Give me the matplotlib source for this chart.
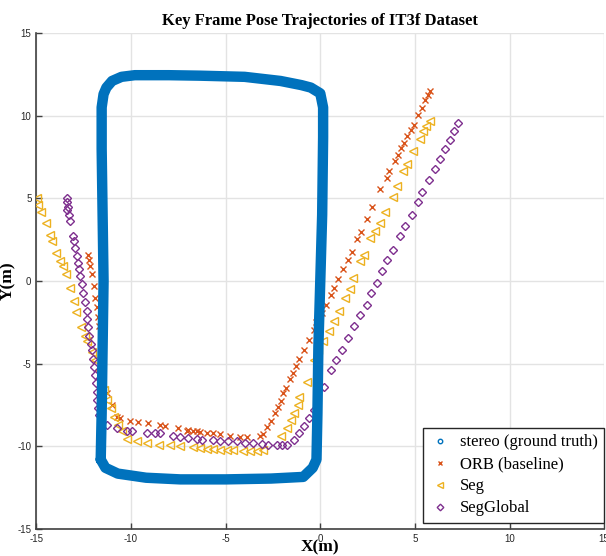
import numpy as np
import matplotlib
matplotlib.use("Agg")
import matplotlib.pyplot as plt

plt.rcParams["axes.unicode_minus"] = False
plt.rcParams["font.family"] = ["Liberation Sans", "DejaVu Sans"]

# ground truth (stereo) loop
gt_x = [-11.6, -11.55, -11.5, -11.45, -11.5, -11.55, -11.55, -11.45, -11.3, -11.0, -10.5, -9.8,
        -8.0, -6.35, -4.0, -2.1, -1.0, -0.5, 0.0, 0.15, 0.15, 0.1, 0.0, -0.1, -0.15, -0.2,
        -0.4, -0.9, -2.6, -5.0, -7.4, -9.2, -10.7, -11.35, -11.6]
gt_y = [-10.8, -8.0, -4.0, 0.0, 4.0, 8.0, 10.5, 11.3, 11.7, 12.1, 12.35, 12.45,
        12.45, 12.42, 12.35, 12.1, 11.85, 11.7, 11.35, 10.5, 8.7, 4.0, 0.0, -4.0, -8.0, -10.8,
        -11.3, -11.85, -11.95, -12.0, -12.0, -11.9, -11.65, -11.3, -10.8]

orb_x = [-12.25, -12.2, -12.15, -12.05, -11.95, -11.9, -11.8, -11.75, -11.7, -11.6,
         -11.27, -11.0, -10.74, -10.58, -10.05, -9.63, -9.1, -8.47, -8.2, -7.51, -6.98, -6.5,
         -7.04, -6.72, -6.35, -5.98, -5.66, -5.29, -4.76, -4.23, -3.86, -3.17,
         -3.0, -2.8, -2.6, -2.4, -2.25, -2.1, -1.95, -1.8, -1.6, -1.45, -1.3, -1.1, -0.85,
         -0.6, -0.35, -0.2, 0.1, 0.3, 0.55, 0.75, 0.95, 1.2, 1.45, 1.65, 1.95, 2.15, 2.45,
         2.75, 3.15, 3.5, 3.65, 3.95, 4.1, 4.25, 4.4, 4.6, 4.8, 4.95, 5.15, 5.35, 5.55, 5.7, 5.8]
orb_y = [1.55, 1.3, 0.9, 0.4, -0.3, -1.0, -1.6, -2.2, -2.7, -3.5,
         -6.8, -7.5, -8.2, -8.3, -8.45, -8.55, -8.6, -8.7, -8.8, -8.9, -9.0, -9.1,
         -9.05, -9.1, -9.15, -9.2, -9.2, -9.25, -9.35, -9.45, -9.45, -9.4,
         -9.25, -8.85, -8.45, -8.0, -7.65, -7.25, -6.8, -6.45, -5.95, -5.55, -5.15, -4.7, -4.15,
         -3.55, -2.95, -2.45, -1.95, -1.45, -0.85, -0.4, 0.15, 0.75, 1.25, 1.75, 2.55, 2.95, 3.75,
         4.45, 5.55, 6.25, 6.65, 7.25, 7.65, 8.05, 8.35, 8.75, 9.15, 9.45, 10.05, 10.45, 10.95, 11.25, 11.5]

seg_x = [-14.95, -14.9, -14.75, -14.5, -14.3, -14.15, -13.95, -13.75, -13.6, -13.45, -13.2,
         -13.0, -12.9, -12.65, -12.45, -12.3, -12.05, -11.9, -11.7, -11.6, -11.4, -11.25,
         -11.05, -10.9, -10.7, -10.5, -10.2, -9.7, -9.15, -8.5, -7.95, -7.4,
         -6.72, -6.35, -5.98, -5.66, -5.29, -4.92, -4.6, -4.07, -3.7, -3.33, -3.02,
         -2.1, -1.75, -1.55, -1.4, -1.2, -1.1, -0.7, -0.35, -0.1, 0.15, 0.45, 0.7, 1.0,
         1.3, 1.55, 1.75, 2.1, 2.3, 2.65, 2.9, 3.15, 3.4, 3.85, 4.05, 4.35, 4.6, 4.9,
         5.25, 5.45, 5.6, 5.8]
seg_y = [5.0, 4.6, 4.2, 3.5, 2.8, 2.4, 1.7, 1.2, 0.9, 0.4, -0.4,
         -1.2, -1.9, -2.8, -3.3, -3.6, -4.3, -4.8, -5.4, -6.0, -6.6, -7.2,
         -7.7, -8.2, -8.7, -9.1, -9.55, -9.7, -9.8, -9.9, -9.95, -10.0,
         -10.05, -10.1, -10.15, -10.15, -10.2, -10.2, -10.25, -10.3, -10.3, -10.3, -10.25,
         -9.4, -8.9, -8.4, -8.0, -7.5, -7.0, -6.1, -4.8, -4.2, -3.6, -3.0, -2.4, -1.8,
         -1.0, -0.5, 0.2, 1.2, 1.6, 2.6, 3.0, 3.5, 4.2, 5.1, 5.75, 6.65, 7.1, 7.85,
         8.6, 9.05, 9.35, 9.65]

sg_x = [-13.4, -13.4, -13.35, -13.4, -13.3, -13.2, -13.05, -13.0, -12.95, -12.85, -12.8,
        -12.75, -12.7, -12.6, -12.55, -12.45, -12.35, -12.35, -12.25, -12.2, -12.1, -12.05,
        -12.0, -11.95, -11.9, -11.85, -11.8, -11.8, -11.75, -11.7,
        -11.27, -10.74, -10.21, -9.95, -9.15, -8.73, -8.47, -7.78, -7.41, -6.98, -6.5,
        -6.24, -5.66, -5.29, -4.87, -4.39, -3.97, -3.54, -3.07, -2.75, -2.28, -2.01, -1.75,
        -1.4, -1.1, -0.85, -0.6, -0.35, -0.15, 0.2, 0.55, 0.85, 1.15, 1.45, 1.8, 2.1, 2.45,
        2.7, 3.0, 3.25, 3.55, 3.85, 4.2, 4.5, 4.85, 5.15, 5.4, 5.75, 6.05, 6.3, 6.6, 6.85,
        7.05, 7.3]
sg_y = [5.0, 4.75, 4.5, 4.3, 4.0, 3.6, 2.7, 2.4, 2.0, 1.5, 1.1,
        0.7, 0.3, -0.2, -0.7, -1.3, -1.8, -2.3, -2.8, -3.3, -3.8, -4.2,
        -4.7, -5.2, -5.7, -6.2, -6.7, -7.2, -7.7, -8.1,
        -8.7, -8.9, -9.1, -9.05, -9.2, -9.2, -9.2, -9.4, -9.45, -9.5, -9.55,
        -9.6, -9.6, -9.7, -9.7, -9.7, -9.8, -9.8, -9.85, -9.9, -9.9, -9.9, -9.9,
        -9.6, -9.2, -8.75, -8.3, -7.8, -7.4, -6.4, -5.4, -4.8, -4.15, -3.45, -2.7, -2.05, -1.45,
        -0.75, -0.1, 0.6, 1.3, 1.9, 2.7, 3.3, 4.0, 4.75, 5.4, 6.1, 6.75, 7.4, 8.0, 8.55,
        9.05, 9.55]

c_gt = "#0072BD"
c_orb = "#D95319"
c_seg = "#EDB120"
c_sg = "#7E2F8E"

fig = plt.figure(figsize=(6.06, 5.56), dpi=100)
ax = fig.add_axes([0.060, 0.0486, 0.937, 0.892])

ax.plot(orb_x, orb_y, ls="none", marker="x", ms=4, mew=1, color=c_orb,
        label="ORB (baseline)", zorder=3)
ax.plot(seg_x, seg_y, ls="none", marker="<", ms=6, mfc="none", mec=c_seg, mew=1,
        label="Seg", zorder=3)
ax.plot(sg_x, sg_y, ls="none", marker="D", ms=4.2, mfc="none", mec=c_sg, mew=1,
        label="SegGlobal", zorder=3)
# ground truth drawn on top, as in the reference
ax.plot(gt_x, gt_y, color=c_gt, lw=7.5, solid_joinstyle="round", solid_capstyle="round", zorder=4)
ax.plot(gt_x, gt_y, ls="none", marker="o", ms=4, mfc="none", mec=c_gt, mew=1,
        label="stereo (ground truth)", zorder=4)

ax.set_xlim(-15, 15)
ax.set_ylim(-15, 15)
ax.set_xticks(np.arange(-15, 16, 5))
ax.set_yticks(np.arange(-15, 16, 5))
ax.grid(True, color="#E3E3E3", lw=1)
ax.set_axisbelow(True)
for s in ["top", "right"]:
    ax.spines[s].set_visible(False)
for s in ["left", "bottom"]:
    ax.spines[s].set_color("#404040")
    ax.spines[s].set_linewidth(1.2)
ax.tick_params(direction="in", length=4, width=1, colors="#404040", labelsize=7,
               labelcolor="#262626")

serif = "Liberation Serif"
ax.set_title("Key Frame Pose Trajectories of IT3f Dataset", fontfamily=serif,
             fontweight="bold", fontsize=12, pad=6)
ax.set_xlabel("X(m)", fontfamily=serif, fontweight="bold", fontsize=12.5)
ax.set_ylabel("Y(m)", fontfamily=serif, fontweight="bold", fontsize=12.5)
ax.xaxis.set_label_coords(0.5, -0.022)
ax.yaxis.set_label_coords(-0.035, 0.5)

handles, labels = ax.get_legend_handles_labels()
order = [3, 0, 1, 2]
leg = ax.legend([handles[i] for i in order], [labels[i] for i in order],
                loc="lower right", bbox_to_anchor=(1.0, 0.012), borderaxespad=0,
                prop={"family": serif, "size": 12}, fancybox=False,
                framealpha=1, edgecolor="#262626", borderpad=0.4, handlelength=1.3,
                handletextpad=0.5, labelspacing=0.36, markerscale=0.8)
leg.get_frame().set_linewidth(1)

fig.savefig("out.png", dpi=100)
